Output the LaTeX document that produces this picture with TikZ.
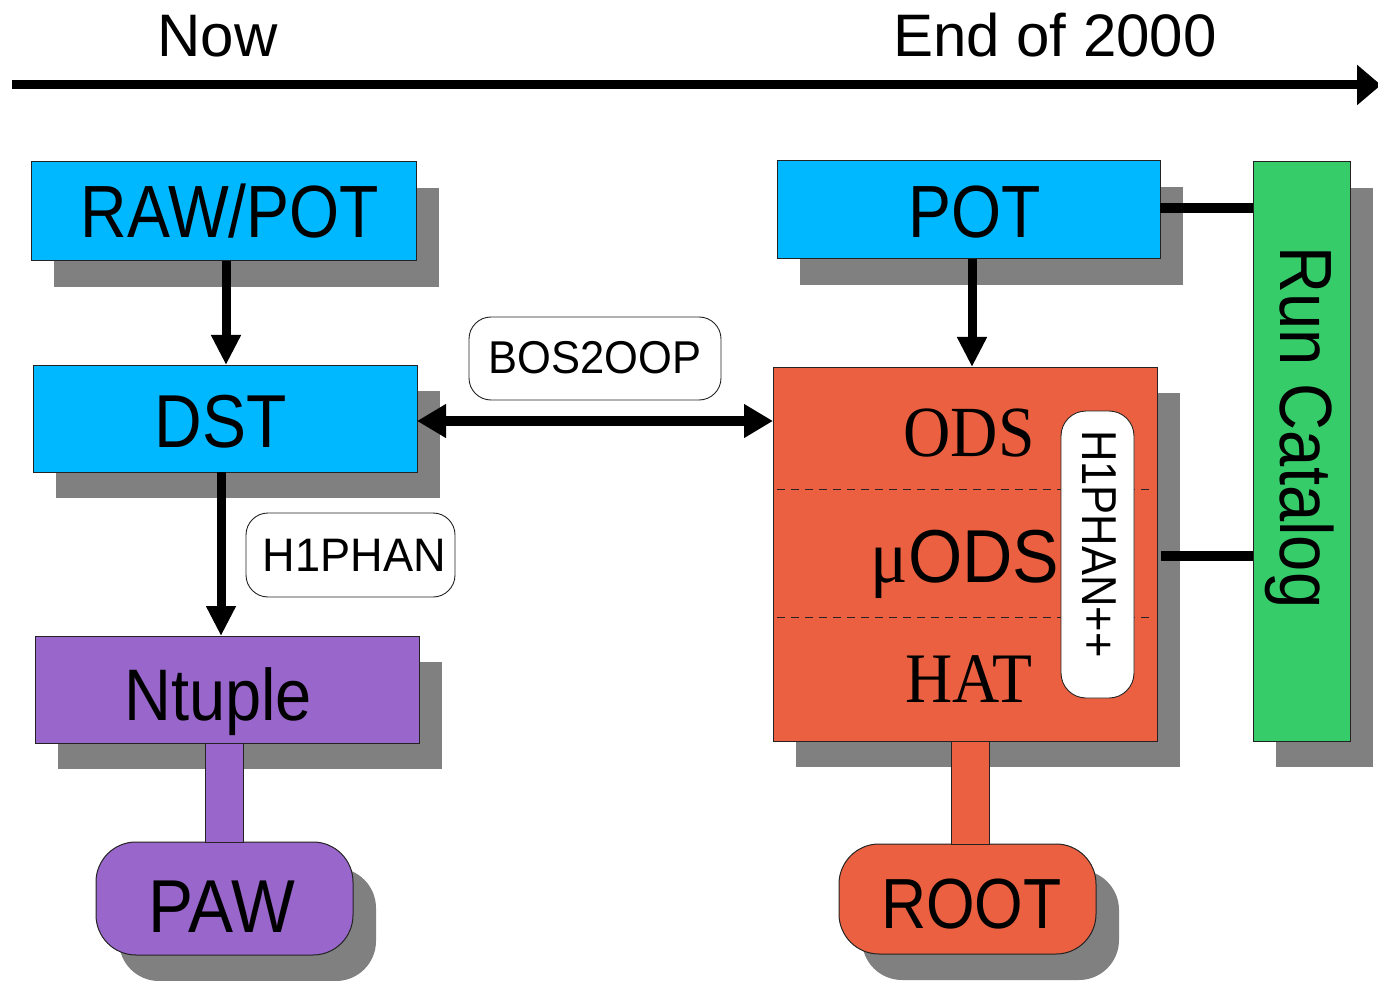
\documentclass[tikz,border=0pt]{standalone}
\usepackage{fontspec}
\usetikzlibrary{arrows.meta,shadows,calc}
\newfontfamily\sansF{Liberation Sans}
\newfontfamily\serifF{Liberation Serif}
% family, size (pt), horizontal stretch factor
\newcommand\fsz[3]{#1\fontsize{#2pt}{#2pt}\selectfont\addfontfeature{FakeStretch=#3}}
\definecolor{cyanC}{RGB}{0,184,255}
\definecolor{purpleC}{RGB}{153,102,204}
\definecolor{orangeC}{RGB}{234,96,64}
\definecolor{greenC}{RGB}{54,204,106}
\definecolor{shadeC}{RGB}{128,128,128}
\definecolor{edgeC}{RGB}{35,35,35}
\begin{document}
\begin{tikzpicture}[x=1pt,y=-1pt,
  every node/.style={inner sep=0pt,outer sep=0pt},
  box/.style={rectangle,draw=edgeC,line width=1pt,
    drop shadow={shadow xshift=23pt,shadow yshift=-26pt,fill=shadeC,opacity=1}},
  tag/.style={rectangle,draw=edgeC,line width=0.9pt,fill=white,rounded corners=22pt},
  arr/.style={line width=9pt,-{Triangle[length=30pt,width=28pt]}},
  link/.style={line width=10pt},
  bar/.style={draw=edgeC,line width=1pt},
  sep/.style={draw=edgeC,line width=1pt,dash pattern=on 8pt off 6pt}]
\useasboundingbox (0,0) rectangle (1378,981);

% time line
\coordinate (tl0) at (12,85);
\coordinate (tl1) at (1381,85);
\draw[line width=9pt,-{Triangle[length=24pt,width=39pt]}] (tl0) -- (tl1);
\node[anchor=base west,font=\sansF\fontsize{60pt}{60pt}\selectfont] (now) at (157.5,57) {Now};
\node[anchor=base west,font=\sansF\fontsize{60pt}{60pt}\selectfont] (end) at (893,57) {End of 2000};

% left column
\node[box,fill=cyanC,minimum width=385pt,minimum height=99pt,
  text height=53pt,text depth=0pt,font=\fsz{\sansF}{74}{0.87}]
  (raw) at (223.5,211.5) {\hspace*{13pt}RAW/POT};
\node[box,fill=cyanC,minimum width=384pt,minimum height=107pt,
  text height=57pt,text depth=0pt,font=\fsz{\sansF}{75}{0.88}]
  (dst) at (225,418.5) {\hspace*{-9pt}DST};
\node[box,fill=purpleC,minimum width=384pt,minimum height=107pt,
  text height=61pt,text depth=0pt,font=\fsz{\sansF}{73}{0.89}]
  (ntuple) at (227,689.5) {\hspace*{-18pt}Ntuple};
\node[box,fill=purpleC,rounded corners=40pt,minimum width=257pt,minimum height=113pt,
  text height=67pt,text depth=0pt,font=\fsz{\sansF}{75}{0.9}]
  (paw) at (224.5,898.5) {\hspace*{-5pt}PAW};

% right column
\node[box,fill=cyanC,minimum width=383pt,minimum height=98pt,
  text height=56pt,text depth=0pt,font=\fsz{\sansF}{74}{0.87}]
  (pot) at (968.5,210) {\hspace*{13pt}POT};
\node[box,fill=orangeC,minimum width=384pt,minimum height=374pt] (obox) at (965,554) {};
\node[box,fill=orangeC,rounded corners=40pt,minimum width=257pt,minimum height=110pt,
  text height=58pt,text depth=0pt,font=\fsz{\sansF}{71}{0.88}]
  (root) at (967.5,899) {\hspace*{8pt}ROOT};
\node[box,fill=greenC,minimum width=97pt,minimum height=579pt] (runcat) at (1301.5,451.5) {};
\node[rotate=-90,text height=53pt,text depth=0pt,font=\fsz{\sansF}{74}{0.88}]
  (runcatT) at (1306.5,427.5) {Run Catalog};

% layers inside the object store
\coordinate (s1a) at ($(obox.north west)+(4,122)$);
\coordinate (s1b) at ($(obox.north east)+(-6,122)$);
\coordinate (s2a) at ($(obox.north west)+(4,250)$);
\coordinate (s2b) at ($(obox.north east)+(-6,250)$);
\draw[sep] (s1a) -- (s1b);
\draw[sep] (s2a) -- (s2b);
\node[anchor=base,font=\fsz{\serifF}{72}{0.91}] (odsT) at (969,456) {ODS};
\node[anchor=base,font=\fsz{\sansF}{75}{0.93}] (muT) at (965,582) {{\fsz{\serifF}{75}{0.93}μ}ODS};
\node[anchor=base,font=\fsz{\serifF}{71}{0.92}] (hatT) at (969,702) {HAT};
\node[tag,rounded corners=25pt,minimum width=73pt,minimum height=287pt] (h1pp) at (1097.5,554.5) {};
\node[rotate=-90,text height=35pt,text depth=0pt,font=\fsz{\sansF}{49}{0.89}]
  (h1ppT) at (1099.5,544) {H1PHAN++};

% program tags
\node[tag,minimum width=252pt,minimum height=83pt,
  text height=29pt,text depth=0pt,font=\fsz{\sansF}{46}{0.945}]
  (bos) at (595,358.5) {BOS2OOP};
\node[tag,minimum width=209pt,minimum height=84pt,
  text height=32pt,text depth=0pt,font=\fsz{\sansF}{47}{0.96}]
  (h1) at (350.5,555) {\hspace*{8pt}H1PHAN};

% stems to the analysis tools
\draw[bar,fill=purpleC] ([xshift=-22pt]ntuple.south) rectangle ([xshift=18.5pt]paw.north);
\draw[bar,fill=orangeC] ([xshift=-14pt]obox.south) rectangle ([xshift=21.5pt]root.north);

% data flow
\draw[arr] ([xshift=2.5pt]raw.south) -- ([xshift=1pt]dst.north);
\draw[arr] ([xshift=-4pt]dst.south) -- ([xshift=-6pt]ntuple.north);
\draw[arr] ([xshift=3.5pt]pot.south) -- ([xshift=7pt]obox.north);
\draw[line width=10pt,{Triangle[length=29pt,width=32pt]}-{Triangle[length=29pt,width=32pt]}]
  ([yshift=-2.5pt]dst.east) -- ([yshift=-2.5pt]dst.east -| obox.west);

% catalogue links
\draw[link] ([yshift=2pt]pot.east) -- ([yshift=2pt]pot.east -| runcat.west);
\draw[link,shorten <=4pt] ([yshift=-1.5pt]obox.east) -- ([yshift=-1.5pt]obox.east -| runcat.west);
\end{tikzpicture}
\end{document}
